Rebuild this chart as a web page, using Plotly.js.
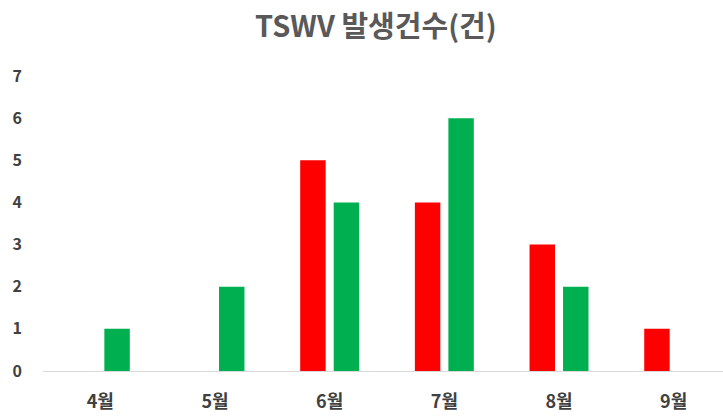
<!DOCTYPE html>
<html>
<head>
<meta charset="utf-8">
<script src="https://cdn.plot.ly/plotly-3.0.1.min.js"></script>
<style>
  html, body { margin: 0; padding: 0; background: #fff; }
  #chart { width: 723px; height: 416px; }
</style>
</head>
<body>
<div id="chart"></div>
<script>
  const months = ["4월", "5월", "6월", "7월", "8월", "9월"];
  const redCounts = [0, 0, 5, 4, 3, 1];
  const greenCounts = [1, 2, 4, 6, 2, 0];
  const yTicks = [0, 1, 2, 3, 4, 5, 6, 7];

  const font = "'Noto Sans CJK KR', 'Noto Sans', sans-serif";

  const traces = [
    { x: months, y: redCounts, type: "bar", name: "red", marker: { color: "#ff0000" }, hoverinfo: "none" },
    { x: months, y: greenCounts, type: "bar", name: "green", marker: { color: "#00b050" }, hoverinfo: "none" },
  ];

  Plotly.newPlot("chart", traces, {
    width: 723,
    height: 416,
    margin: { l: 43, r: 0, t: 76, b: 45 },
    paper_bgcolor: "#fff",
    plot_bgcolor: "#fff",
    showlegend: false,
    barmode: "group",
    bargap: 0.416,
    bargroupgap: 0.24,
    title: {
      text: "TSWV 발생건수(건)",
      x: 0.52,
      xanchor: "center",
      y: 0.935,
      yanchor: "middle",
      font: { family: font, size: 29, color: "#595959", weight: "bold" },
    },
    xaxis: {
      range: [-0.5, 5.43],
      showgrid: false,
      showline: true,
      linecolor: "#d9d9d9",
      linewidth: 1,
      ticks: "",
      ticklabelstandoff: 14,
      tickfont: { family: font, size: 18, color: "#404040", weight: "bold" },
    },
    yaxis: {
      range: [0, 7],
      tickvals: yTicks,
      showgrid: false,
      zeroline: false,
      showline: false,
      ticks: "",
      ticklabelstandoff: 20,
      tickfont: { family: font, size: 16, color: "#404040", weight: "bold" },
    },
  }, { displayModeBar: false, staticPlot: true });
</script>
</body>
</html>
